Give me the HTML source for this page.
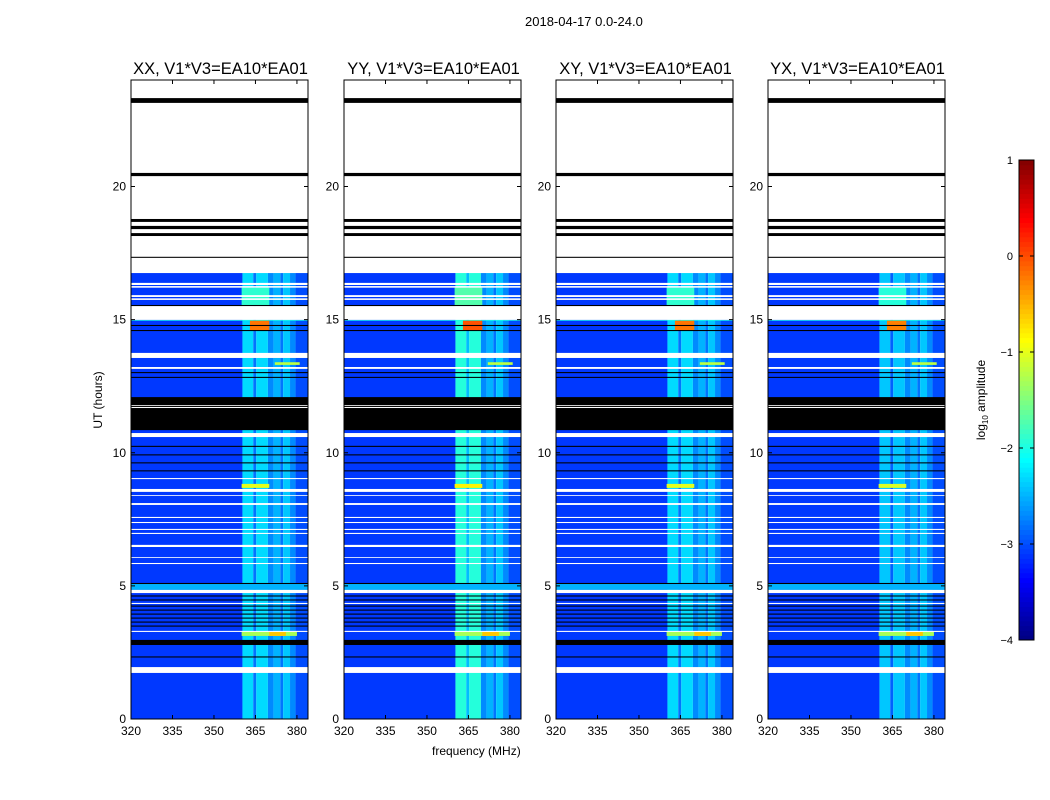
<!DOCTYPE html>
<html><head><meta charset="utf-8"><style>
body{margin:0;background:#fff;font-family:"Liberation Sans",sans-serif;}
#wrap{position:relative;width:1050px;height:800px;overflow:hidden;background:#fff}
.t{position:absolute;font-size:12px;color:#000;white-space:nowrap}
</style></head><body>
<div id="wrap">
<div class="t" style="left:525px;top:14px;font-size:13px">2018-04-17 0.0-24.0</div>
<div class="t" style="left:432px;top:744px;font-size:12px">frequency (MHz)</div>
<div class="t" style="left:98px;top:400px;transform:translate(-50%,-50%) rotate(-90deg)">UT (hours)</div>
<div class="t" style="left:982px;top:400px;transform:translate(-50%,-50%) rotate(-90deg)">log<sub style="font-size:8px">10</sub> amplitude</div>
<svg id="svg" width="1050" height="800" style="position:absolute;left:0;top:0"></svg>
</div>
<script>
const panelTitles=["XX, V1*V3=EA10*EA01","YY, V1*V3=EA10*EA01","XY, V1*V3=EA10*EA01","YX, V1*V3=EA10*EA01"];
const panelLefts=[131,344,556,768];
const xTicks=[320,335,350,365,380];
const yTicks=[0,5,10,15,20];
const cbTicks=[1,0,-1,-2,-3,-4];
// frequency profile: [startMHz,endMHz,log10 amplitude]
const freqProfile=[[320,360.3,-3.1],[360.3,364.2,-2.3],[364.2,365.3,-2.8],[365.3,369.5,-2.3],[369.5,371.5,-2.7],[371.5,374,-2.5],[374,375,-2.8],[375,377.5,-2.4],[377.5,379.5,-2.7],[379.5,384,-3.0]];
// per-panel boost for the 360-370 MHz band
const panelBandBoost=[0,0.35,0,-0.1];
const dataTop=16.75;
const blackTop=[[23.14,23.32],[20.39,20.51],[18.67,18.78],[18.40,18.52],[18.14,18.25],[17.32,17.36]];
const whiteRows=[[16.30,16.38],[16.20,16.26],[15.85,15.92],[15.74,15.80],[14.99,15.51],[13.56,13.75],[13.15,13.22],[11.76,11.79],[11.68,11.72],[10.59,10.74],[9.01,9.05],[8.53,8.64],[8.38,8.41],[8.04,8.11],[7.55,7.59],[7.36,7.40],[7.10,7.14],[6.95,6.99],[6.46,6.54],[6.05,6.08],[5.82,5.86],[4.73,4.85],[4.32,4.36],[3.27,3.31],[1.73,1.95]];
const blackRows=[[15.51,15.55],[14.76,14.80],[14.57,14.61],[12.99,13.03],[12.81,12.85],[10.85,12.09],[10.22,10.26],[9.90,9.94],[9.60,9.64],[9.30,9.34],[5.07,5.11],[4.60,4.64],[4.45,4.49],[4.22,4.26],[4.07,4.11],[3.92,3.96],[3.77,3.81],[3.62,3.66],[3.47,3.51],[2.78,2.97],[2.31,2.35]];
// bright rows: [h0,h1,f0,f1,value]
const brightRows=[[14.96,14.99,320,384,-2.0],[14.61,14.96,363,370,-0.2],[8.68,8.83,360,370,-1.0],[3.12,3.27,360,380,-1.3],[3.12,3.27,370,376,-0.6],[4.85,5.07,320,384,-2.5],[15.55,16.20,360,370,-1.9],[13.30,13.40,372,381,-1.2]];

const NS='http://www.w3.org/2000/svg';
const svg=document.getElementById('svg');
const PW=177,PT=80,PH=639,F0=320,F1=384,H0=0,H1=24;
function xs(f,l){return l+(f-F0)/(F1-F0)*PW;}
function ys(h){return PT+PH-(h-H0)/(H1-H0)*PH;}
function jet(v){let t=(v+4)/5;t=Math.max(0,Math.min(1,t));
 const c=x=>Math.max(0,Math.min(1,x));
 const r=c(1.5-Math.abs(4*t-3)),g=c(1.5-Math.abs(4*t-2)),b=c(1.5-Math.abs(4*t-1));
 return `rgb(${Math.round(r*255)},${Math.round(g*255)},${Math.round(b*255)})`;}
function el(tag,attrs,name,parent){const e=document.createElementNS(NS,tag);for(const k in attrs)e.setAttribute(k,attrs[k]);
 
 
 (parent||svg).appendChild(e);return e;}
function rect(l,f0,f1,h0,h1,fill,name,g){el('rect',{x:xs(f0,l),y:ys(h1),width:xs(f1,l)-xs(f0,l),height:ys(h0)-ys(h1),fill:fill},name,g);}

panelLefts.forEach((l,p)=>{
 const g=el('g',{},'panel-'+p);
 freqProfile.forEach(fp=>{let v=fp[2];if(fp[0]>=360&&fp[1]<=370)v+=panelBandBoost[p];
  rect(l,fp[0],fp[1],0,dataTop,jet(v),'freq-band',g);});
 brightRows.forEach(b=>{let v=b[4];if(b[2]>=360&&b[3]<=370)v+=panelBandBoost[p]*0.5;rect(l,b[2],b[3],b[0],b[1],jet(v),'bright-row',g);});
 whiteRows.forEach(w=>rect(l,F0,F1,w[0],w[1],'#fff','flag-white',g));
 blackRows.forEach(b=>rect(l,F0,F1,b[0],b[1],'#000','flag-black',g));
 rect(l,F0,F1,dataTop,24,'#fff','no-data',g);
 blackTop.forEach(b=>rect(l,F0,F1,b[0],b[1],'#000','flag-black',g));
 whiteRows.filter(w=>w[0]>11&&w[1]<12.1).forEach(w=>rect(l,F0,F1,w[0],w[1],'#fff','flag-white',g));
 el('rect',{x:l,y:PT,width:PW,height:PH,fill:'none',stroke:'#000','stroke-width':1},'axes-frame',g);
 xTicks.forEach(t=>{const x=xs(t,l);
  el('line',{x1:x,x2:x,y1:PT+PH,y2:PT+PH-4,stroke:'#000'},'x-tick',g);
  el('line',{x1:x,x2:x,y1:PT,y2:PT+4,stroke:'#000'},'x-tick',g);
  const tx=el('text',{x:x,y:PT+PH+16,'text-anchor':'middle','font-size':12,'font-family':'Liberation Sans'},'x-tick-label',g);tx.textContent=t;});
 yTicks.forEach(t=>{const y=ys(t);
  el('line',{x1:l,x2:l+4,y1:y,y2:y,stroke:'#000'},'y-tick',g);
  el('line',{x1:l+PW,x2:l+PW-4,y1:y,y2:y,stroke:'#000'},'y-tick',g);
  const tx=el('text',{x:l-5,y:y+4,'text-anchor':'end','font-size':12,'font-family':'Liberation Sans'},'y-tick-label',g);tx.textContent=t;});
 const tt=el('text',{x:l+PW/2+1,y:PT-6,'text-anchor':'middle','font-size':16.5,'font-family':'Liberation Sans'},'panel-title',g);tt.textContent=panelTitles[p];
});
const CBX=1019,CBW=15,CBT=160,CBH=480;
function cy(v){return CBT+(1-v)/5*CBH;}
const cg=el('g',{},'colorbar');
for(let i=0;i<100;i++){const v0=-4+i*0.05;
 el('rect',{x:CBX,y:cy(v0+0.05),width:CBW,height:CBH/100+0.5,fill:jet(v0+0.025)},'colorbar-cell',cg);}
el('rect',{x:CBX,y:CBT,width:CBW,height:CBH,fill:'none',stroke:'#000'},'colorbar-frame',cg);
cbTicks.forEach(t=>{const y=cy(t);
 el('line',{x1:CBX,x2:CBX+4,y1:y,y2:y,stroke:'#000'},'cb-tick',cg);
 el('line',{x1:CBX+CBW,x2:CBX+CBW-4,y1:y,y2:y,stroke:'#000'},'cb-tick',cg);
 const tx=el('text',{x:CBX-6,y:y+4,'text-anchor':'end','font-size':11,'font-family':'Liberation Sans'},'cb-tick-label',cg);tx.textContent=t<0?'\u2212'+(-t):t;});
</script>
</body></html>
